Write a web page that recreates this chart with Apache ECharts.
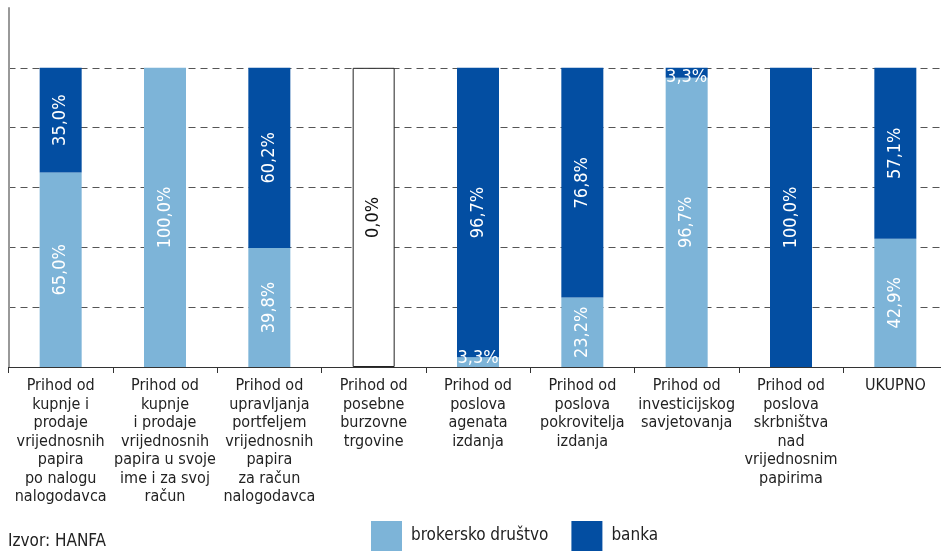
<!DOCTYPE html>
<html><head><meta charset="utf-8">
<script src="https://cdn.jsdelivr.net/npm/echarts@6/dist/echarts.min.js"></script>
<style>html,body{margin:0;padding:0;background:#fff}#c{width:941px;height:551px}</style>
</head><body><div id="c"></div>
<script>
const categories = [
  "Prihod od\nkupnje i\nprodaje\nvrijednosnih\npapira\npo nalogu\nnalogodavca",
  "Prihod od\nkupnje\ni prodaje\nvrijednosnih\npapira u svoje\nime i za svoj\nračun",
  "Prihod od\nupravljanja\nportfeljem\nvrijednosnih\npapira\nza račun\nnalogodavca",
  "Prihod od\nposebne\nburzovne\ntrgovine",
  "Prihod od\nposlova\nagenata\nizdanja",
  "Prihod od\nposlova\npokrovitelja\nizdanja",
  "Prihod od\ninvesticijskog\nsavjetovanja",
  "Prihod od\nposlova\nskrbništva\nnad\nvrijednosnim\npapirima",
  "UKUPNO"
];
const brokerskoDrustvo = [65.0, 100.0, 39.8, 0, 3.3, 23.2, 96.7, 0, 42.9];
const banka = [35.0, 0, 60.2, 0, 96.7, 76.8, 3.3, 100.0, 57.1];
const emptyCategory = [null, null, null, 100, null, null, null, null, null];
const yTicks = [0, 20, 40, 60, 80, 100, 120];

const FONT = "'Liberation Sans Narrow', 'DejaVu Sans Condensed', sans-serif";
const fmt = v => v.toFixed(1).replace('.', ',') + '%';

function makeData(arr, smallPos) {
  return arr.map(v => {
    if (v === 0) return { value: 0, label: { show: false } };
    if (v < 5) return { value: v, label: { show: true, rotate: 0, position: smallPos, distance: 0, fontSize: 18 } };
    return v;
  });
}

const barLabel = { show: true, position: 'inside', rotate: 90, color: '#fff', fontSize: 18, fontFamily: FONT, formatter: p => fmt(p.value) };

const chart = echarts.init(document.getElementById('c'));
chart.setOption({
  animation: false,
  textStyle: { fontFamily: FONT },
  grid: { left: 8.5, width: 939, top: 8, bottom: 184, containLabel: false, outerBoundsMode: 'none' },
  legend: {
    data: ['brokersko društvo', 'banka'],
    left: 371, top: 521, padding: 0, itemWidth: 31, itemHeight: 30, itemGap: 23,
    icon: 'rect',
    textStyle: { fontFamily: FONT, fontSize: 17, color: '#222', padding: [0, 0, 0, 4] }
  },
  graphic: [{ type: 'text', left: 8, top: 533, style: { text: 'Izvor: HANFA', font: "17px " + FONT, fill: '#222' } }],
  xAxis: {
    type: 'category', data: categories,
    axisLine: { lineStyle: { color: '#333', width: 1 } },
    axisTick: { show: true, length: 6, lineStyle: { color: '#333' } },
    axisLabel: { interval: 0, fontFamily: FONT, fontSize: 16, lineHeight: 18.5, color: '#222', margin: 10, align: 'center', verticalAlign: 'top' }
  },
  yAxis: {
    type: 'value', min: yTicks[0], max: yTicks[yTicks.length - 1], interval: 20,
    axisLine: { show: true, lineStyle: { color: '#999', width: 2 } },
    axisTick: { show: false }, axisLabel: { show: false },
    splitLine: { show: true, showMinLine: false, showMaxLine: false, lineStyle: { color: '#555', type: [7, 5], width: 1 } }
  },
  series: [
    {
      name: 'brokersko društvo', type: 'bar', stack: 's', barWidth: 42,
      data: makeData(brokerskoDrustvo, 'insideBottom'),
      itemStyle: { color: '#7db4d8' },
      label: barLabel
    },
    {
      name: 'banka', type: 'bar', stack: 's', barWidth: 42,
      data: makeData(banka, 'insideTop'),
      itemStyle: { color: '#034ea2' },
      label: barLabel
    },
    {
      name: 'prazno', type: 'bar', stack: 's', barWidth: 42,
      data: emptyCategory,
      itemStyle: { color: '#fff', borderColor: '#222', borderWidth: 1 },
      label: Object.assign({}, barLabel, { color: '#111', formatter: () => '0,0%' })
    }
  ]
});
</script></body></html>
